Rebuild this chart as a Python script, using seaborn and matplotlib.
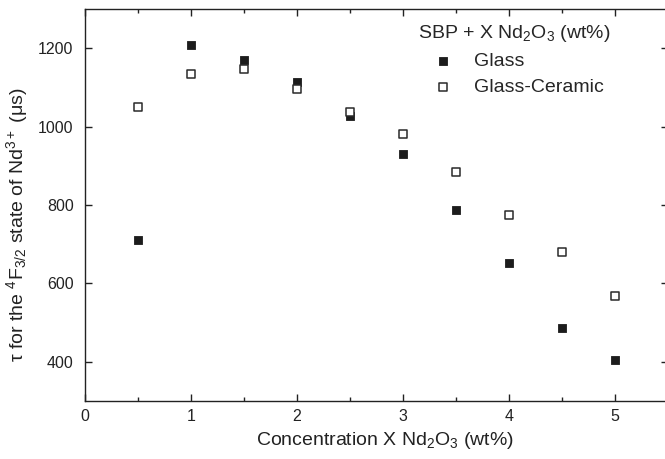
import matplotlib
matplotlib.use("Agg")
import matplotlib.pyplot as plt
from matplotlib.ticker import MultipleLocator
import seaborn as sns
import pandas as pd

# Nd2O3 content (wt%) and measured 4F3/2 lifetimes (us)
concentration = [0.5, 1.0, 1.5, 2.0, 2.5, 3.0, 3.5, 4.0, 4.5, 5.0]
tau_glass = [711, 1209, 1169, 1113, 1028, 930, 787, 651, 487, 405]
tau_glass_ceramic = [1050, 1133, 1147, 1095, 1038, 981, 885, 775, 679, 569]

sns.set_theme(style="ticks")
plt.rcParams["font.family"] = ["Liberation Sans", "DejaVu Sans"]
plt.rcParams["mathtext.fontset"] = "custom"
plt.rcParams["mathtext.rm"] = "Liberation Sans"
plt.rcParams["mathtext.it"] = "Liberation Sans:italic"
plt.rcParams["mathtext.default"] = "regular"

df = pd.DataFrame({
    "x": concentration * 2,
    "tau": tau_glass + tau_glass_ceramic,
    "sample": ["Glass"] * len(concentration) + ["Glass-Ceramic"] * len(concentration),
})

fig = plt.figure(figsize=(6.65, 4.59), dpi=100)
ax = fig.add_axes([84.7 / 665, 1 - 401 / 459, (668 - 84.7) / 665, (401 - 9) / 459])

sns.scatterplot(data=df[df["sample"] == "Glass"], x="x", y="tau", marker="s",
                s=38, color="#1c1c1c", edgecolor="#1c1c1c", linewidth=0.6,
                label="Glass", ax=ax)
sns.scatterplot(data=df[df["sample"] == "Glass-Ceramic"], x="x", y="tau", marker="s",
                s=30, facecolor="white", edgecolor="#2a2a2a", linewidth=1.1,
                label="Glass-Ceramic", ax=ax)

ax.set_xlim(0, 5.5)
ax.set_ylim(300, 1300)
ax.xaxis.set_major_locator(MultipleLocator(1))
ax.xaxis.set_minor_locator(MultipleLocator(0.5))
ax.yaxis.set_major_locator(MultipleLocator(200))
ax.tick_params(which="both", direction="in", top=True, right=True,
               labelsize=11.5, colors="#222222", width=1.0)
ax.tick_params(which="major", length=5)
ax.tick_params(which="minor", length=3)
ax.tick_params(axis="y", pad=8)
ax.tick_params(axis="x", pad=6)
for side in ax.spines.values():
    side.set_linewidth(1.0)
    side.set_color("#222222")

ax.set_xlabel("Concentration X Nd$_2$O$_3$ (wt%)", fontsize=14, color="#222222")
ax.xaxis.set_label_coords(0.515, -0.075)
ax.set_ylabel("τ for the $^4$F$_{3/2}$ state of Nd$^{3+}$ (μs)", fontsize=14,
              color="#222222")
ax.yaxis.set_label_coords(-0.094, 0.449)

leg = ax.legend(title="SBP + X Nd$_2$O$_3$ (wt%)", loc="upper left",
                bbox_to_anchor=(0.548, 1.0), frameon=False, fontsize=14,
                title_fontsize=14, handletextpad=0.3, borderaxespad=0.3,
                labelspacing=0.45, markerscale=1.0, handlelength=2.6)
leg._legend_box.align = "left"

fig.savefig("out.png", dpi=100)
